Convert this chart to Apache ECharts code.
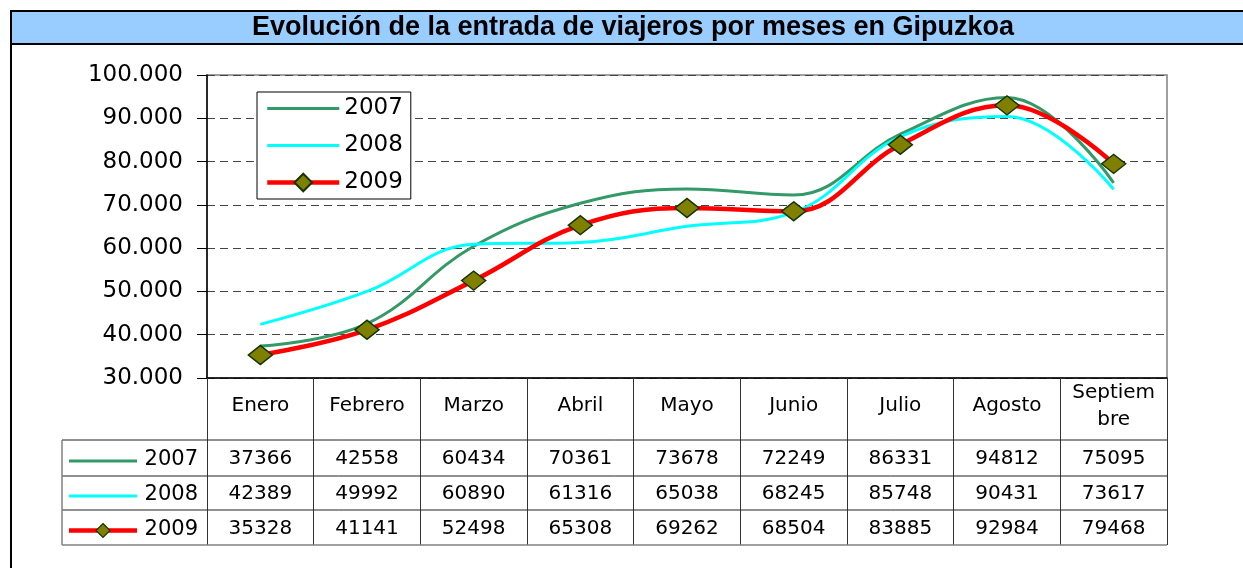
<!DOCTYPE html>
<html>
<head>
<meta charset="utf-8">
<title>Evolución de la entrada de viajeros por meses en Gipuzkoa</title>
<script src="https://cdn.jsdelivr.net/npm/echarts@6/dist/echarts.min.js"></script>
<style>
  html, body { margin: 0; padding: 0; background: #fff; }
  #chart { width: 1243px; height: 568px; }
</style>
</head>
<body>
<div id="chart"></div>
<script>
// datos
var meses = ['Enero', 'Febrero', 'Marzo', 'Abril', 'Mayo', 'Junio', 'Julio', 'Agosto', 'Septiembre'];
var anios = ['2007', '2008', '2009'];
var v2007 = [37366, 42558, 60434, 70361, 73678, 72249, 86331, 94812, 75095];
var v2008 = [42389, 49992, 60890, 61316, 65038, 68245, 85748, 90431, 73617];
var v2009 = [35328, 41141, 52498, 65308, 69262, 68504, 83885, 92984, 79468];
var colores = ['#339966', '#00FFFF', '#FF0000'];

var chart = echarts.init(document.getElementById('chart'));

//layout
var G = { left: 207, right: 1167, top: 75, bottom: 378 };
var rowLines = [440, 476, 510, 545];
var tableLeft = 62;
var font = 'DejaVu Sans';

function miles(v) {
  return String(v).replace(/\B(?=(\d{3})+(?!\d))/g, '.');
}

var option = {
  animation: false,
  backgroundColor: '#fff',
  grid: {
    left: G.left, top: G.top, width: G.right - G.left, height: G.bottom - G.top,
    show: true, borderColor: '#808080', borderWidth: 1.5, backgroundColor: 'transparent'
  },
  legend: {
    orient: 'vertical',
    left: 257, top: 92,
    data: [
      { name: '2007', itemStyle: { opacity: 0 }, lineStyle: { width: 3 } },
      { name: '2008', itemStyle: { opacity: 0 }, lineStyle: { width: 3 } },
      { name: '2009', lineStyle: { width: 4.5 } }
    ],
    itemWidth: 72, itemHeight: 22, itemGap: 14,
    padding: [5, 8, 5, 8],
    backgroundColor: '#fff',
    borderColor: '#000', borderWidth: 1,
    textStyle: { fontFamily: font, fontSize: 23, color: '#000' }
  },
  xAxis: {
    type: 'category',
    data: meses,
    boundaryGap: true,
    axisLine: { lineStyle: { color: '#000', width: 1.5 } },
    axisTick: { show: true, interval: 0, length: rowLines[3] - G.bottom, lineStyle: { color: '#333', width: 1 } },
    axisLabel: {
      interval: 0, margin: 28, verticalAlign: 'middle',
      fontFamily: font, fontSize: 20, color: '#000', lineHeight: 27,
      formatter: function (v) { return v === 'Septiembre' ? 'Septiem\nbre' : v; }
    },
    splitLine: { show: false }
  },
  yAxis: {
    type: 'value',
    min: 30000, max: 100000, interval: 10000,
    axisLine: { show: true, lineStyle: { color: '#000', width: 1.5 } },
    axisTick: { show: true, length: 10, lineStyle: { color: '#000' } },
    axisLabel: { margin: 24, fontFamily: font, fontSize: 23, color: '#000', formatter: miles },
    splitLine: { show: true, lineStyle: { color: '#444', width: 1, type: [8, 5] } }
  },
  series: [
    {
      name: '2007', type: 'line', data: v2007, smooth: 0.4,
      symbol: 'none', lineStyle: { color: colores[0], width: 3 }, itemStyle: { color: colores[0] }, z: 2
    },
    {
      name: '2008', type: 'line', data: v2008, smooth: 0.4,
      symbol: 'none', lineStyle: { color: colores[1], width: 3 }, itemStyle: { color: colores[1] }, z: 3
    },
    {
      name: '2009', type: 'line', data: v2009, smooth: 0.4,
      symbol: 'diamond', symbolSize: [24, 19],
      lineStyle: { color: colores[2], width: 4.5 },
      itemStyle: { color: '#808000', borderColor: '#143300', borderWidth: 1.5 }, z: 4
    }
  ]
};

chart.setOption(option);

// tabla de datos + marco del título
var graphics = [];
var tableRight = G.right;

graphics.push({
  type: 'rect', shape: { x: 11, y: 11, width: 1250, height: 33 },
  style: { fill: '#99CCFF', stroke: '#000', lineWidth: 2 }, z: 10
});
graphics.push({
  type: 'text', x: 633, y: 28,
  style: {
    text: 'Evolución de la entrada de viajeros por meses en Gipuzkoa',
    font: 'bold 27px "Liberation Sans", Arial, sans-serif', fill: '#000',
    align: 'center', verticalAlign: 'middle'
  }, z: 11
});
graphics.push({
  type: 'line', shape: { x1: 11, y1: 11, x2: 11, y2: 568 },
  style: { stroke: '#000', lineWidth: 2 }, z: 10
});

// lineas horizontales de la tabla
rowLines.forEach(function (y, i) {
  graphics.push({
    type: 'line', shape: { x1: tableLeft, y1: y, x2: tableRight, y2: y },
    style: { stroke: i === rowLines.length - 1 ? '#808080' : '#222', lineWidth: i === rowLines.length - 1 ? 1.5 : 1 }, z: 5
  });
});
graphics.push({
  type: 'line', shape: { x1: tableLeft, y1: rowLines[0], x2: tableLeft, y2: rowLines[3] },
  style: { stroke: '#808080', lineWidth: 1.5 }, z: 5
});

var valores = [v2007, v2008, v2009];
valores.forEach(function (serie, r) {
  var yc = (rowLines[r] + rowLines[r + 1]) / 2 + 1;
  // clave de leyenda
  graphics.push({
    type: 'line', shape: { x1: 69, y1: yc + 2, x2: 137, y2: yc + 2 },
    style: { stroke: colores[r], lineWidth: r === 2 ? 4.5 : 3 }, z: 6
  });
  if (r === 2) {
    graphics.push({
      type: 'polygon', shape: { points: [[103, yc + 2 - 7], [110, yc + 2], [103, yc + 2 + 7], [96, yc + 2]] },
      style: { fill: '#808000', stroke: '#143300', lineWidth: 1.2 }, z: 7
    });
  }
  graphics.push({
    type: 'text', x: 198, y: yc + 1,
    style: { text: anios[r], font: '21px "DejaVu Sans"', fill: '#000', align: 'right', verticalAlign: 'middle' }, z: 6
  });
  serie.forEach(function (v, c) {
    var x = chart.convertToPixel({ xAxisIndex: 0 }, meses[c]);
    graphics.push({
      type: 'text', x: x, y: yc,
      style: { text: String(v), font: '20px "DejaVu Sans"', fill: '#000', align: 'center', verticalAlign: 'middle' }, z: 6
    });
  });
});

chart.setOption({ graphic: graphics });
</script>
</body>
</html>
